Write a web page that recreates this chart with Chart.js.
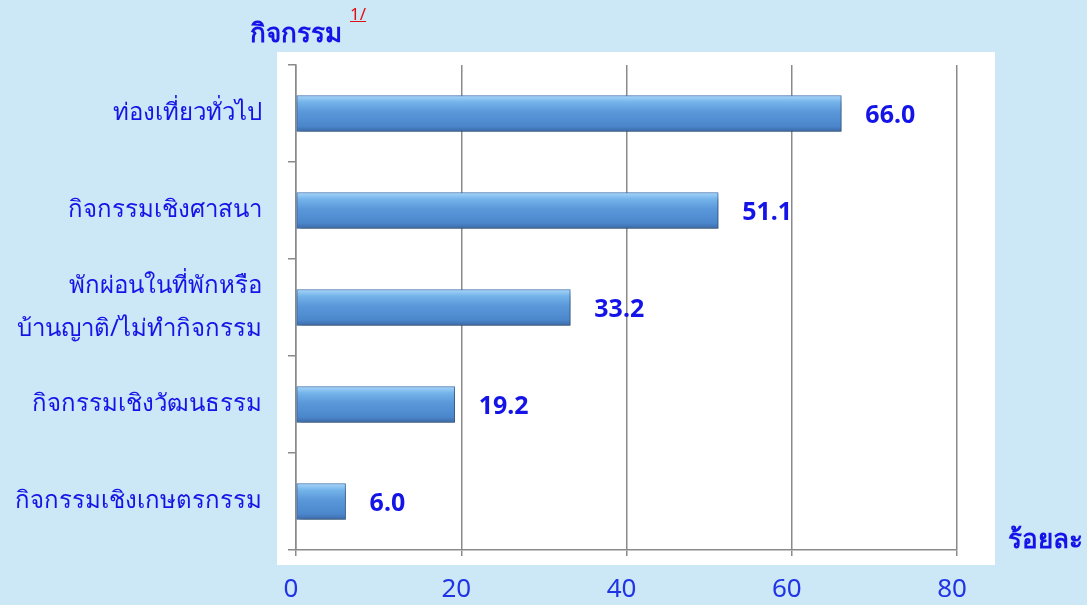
<!DOCTYPE html>
<html>
<head>
<meta charset="utf-8">
<script src="https://cdn.jsdelivr.net/npm/chart.js@4.4.1/dist/chart.umd.min.js"></script>
<style>
  html, body { margin: 0; padding: 0; background: #cce7f5; }
  #wrap { position: relative; width: 1087px; height: 605px; }
  .lbl { position: absolute; color: #1414e8; font-family: Tahoma, "Noto Sans", "DejaVu Sans", sans-serif; font-weight: bold; white-space: nowrap; }
  #ytitle { left: 250px; top: 12px; font-size: 26px; }
  #ytitle sup { color: #e01010; font-size: 17px; text-decoration: underline; position: relative; top: -12px; margin-left: 8px; font-weight: normal; }
  #xtitle { left: 1008px; top: 518px; font-size: 26px; }
</style>
</head>
<body>
<div id="wrap">
  <canvas id="chart" width="1087" height="605"></canvas>
  <div class="lbl" id="ytitle">กิจกรรม<sup>1/</sup></div>
  <div class="lbl" id="xtitle">ร้อยละ</div>
</div>
<script>
var categories = [
    'ท่องเที่ยวทั่วไป',
    'กิจกรรมเชิงศาสนา',
    ['พักผ่อนในที่พักหรือ', 'บ้านญาติ/ไม่ทำกิจกรรม'],
    'กิจกรรมเชิงวัฒนธรรม',
    'กิจกรรมเชิงเกษตรกรรม'
];
var percentValues = [66.0, 51.1, 33.2, 19.2, 6.0];
var xTicks = [0, 20, 40, 60, 80];

var fontFamily = 'Tahoma, "Noto Sans", "DejaVu Sans", sans-serif';
var blueText = '#1414e8';
var gridGray = '#8a8a8a';
var barThickness = 36;

function barGradient(context) {
    var chart = context.chart;
    var yScale = chart.scales.y;
    if (!yScale || context.dataIndex === undefined) {
        return '#5592d6';
    }
    var center = yScale.getPixelForValue(context.dataIndex);
    if (!isFinite(center)) {
        return '#5592d6';
    }
    var top = center - barThickness / 2;
    var g = chart.ctx.createLinearGradient(0, top, 0, top + barThickness);
    g.addColorStop(0, '#a8d6f8');
    g.addColorStop(0.18, '#74b4ea');
    g.addColorStop(0.45, '#5a98da');
    g.addColorStop(0.85, '#4b86cc');
    g.addColorStop(1, '#3b6aa6');
    return g;
}

var backgroundPlugin = {
    id: 'panel',
    beforeDraw: function (chart) {
        var a = chart.chartArea;
        var ctx = chart.ctx;
        ctx.save();
        ctx.fillStyle = '#cce7f5';
        ctx.fillRect(0, 0, chart.width, chart.height);
        ctx.fillStyle = '#ffffff';
        ctx.fillRect(a.left - 19, a.top - 13, a.right - a.left + 57, a.bottom - a.top + 28);
        ctx.restore();
    },
    beforeDatasetsDraw: function (chart) {
        var ctx = chart.ctx;
        ctx.save();
        ctx.shadowColor = 'rgba(0, 0, 0, 0.35)';
        ctx.shadowBlur = 6;
        ctx.shadowOffsetX = 2;
        ctx.shadowOffsetY = 5;
    },
    afterDatasetsDraw: function (chart) {
        var ctx = chart.ctx;
        ctx.restore();
        var meta = chart.getDatasetMeta(0);
        ctx.save();
        ctx.font = 'bold 25px ' + fontFamily;
        ctx.fillStyle = blueText;
        ctx.textBaseline = 'middle';
        ctx.textAlign = 'left';
        meta.data.forEach(function (bar, i) {
            ctx.fillText(percentValues[i].toFixed(1), bar.x + 24, bar.y + 2);
        });
        ctx.restore();
    }
};

new Chart(document.getElementById('chart').getContext('2d'), {
    type: 'bar',
    data: {
        labels: categories,
        datasets: [{
            data: percentValues,
            backgroundColor: barGradient,
            borderColor: '#3f74b4',
            borderWidth: 1,
            borderSkipped: false,
            barThickness: barThickness
        }]
    },
    options: {
        indexAxis: 'y',
        responsive: false,
        animation: false,
        layout: { padding: { top: 65, right: 130, bottom: 0, left: 0 } },
        plugins: {
            legend: { display: false },
            tooltip: { enabled: false }
        },
        scales: {
            x: {
                min: 0,
                max: 80,
                afterBuildTicks: function (scale) {
                    scale.ticks = xTicks.map(function (v) { return { value: v }; });
                },
                afterFit: function (scale) { scale.height = 55; },
                grid: { color: gridGray, lineWidth: 1.5, tickLength: 6, tickColor: gridGray },
                border: { color: gridGray, width: 1.5 },
                ticks: {
                    color: '#2034e6',
                    padding: 18,
                    labelOffset: -5,
                    font: { size: 26, family: fontFamily }
                }
            },
            y: {
                afterFit: function (scale) { scale.width = 296; },
                grid: { drawOnChartArea: false, color: gridGray, tickLength: 8, lineWidth: 1.5 },
                border: { color: gridGray, width: 1.5 },
                ticks: {
                    color: blueText,
                    padding: 26,
                    font: { size: 24, family: fontFamily, lineHeight: 1.8 }
                }
            }
        }
    },
    plugins: [backgroundPlugin]
});
</script>
</body>
</html>
